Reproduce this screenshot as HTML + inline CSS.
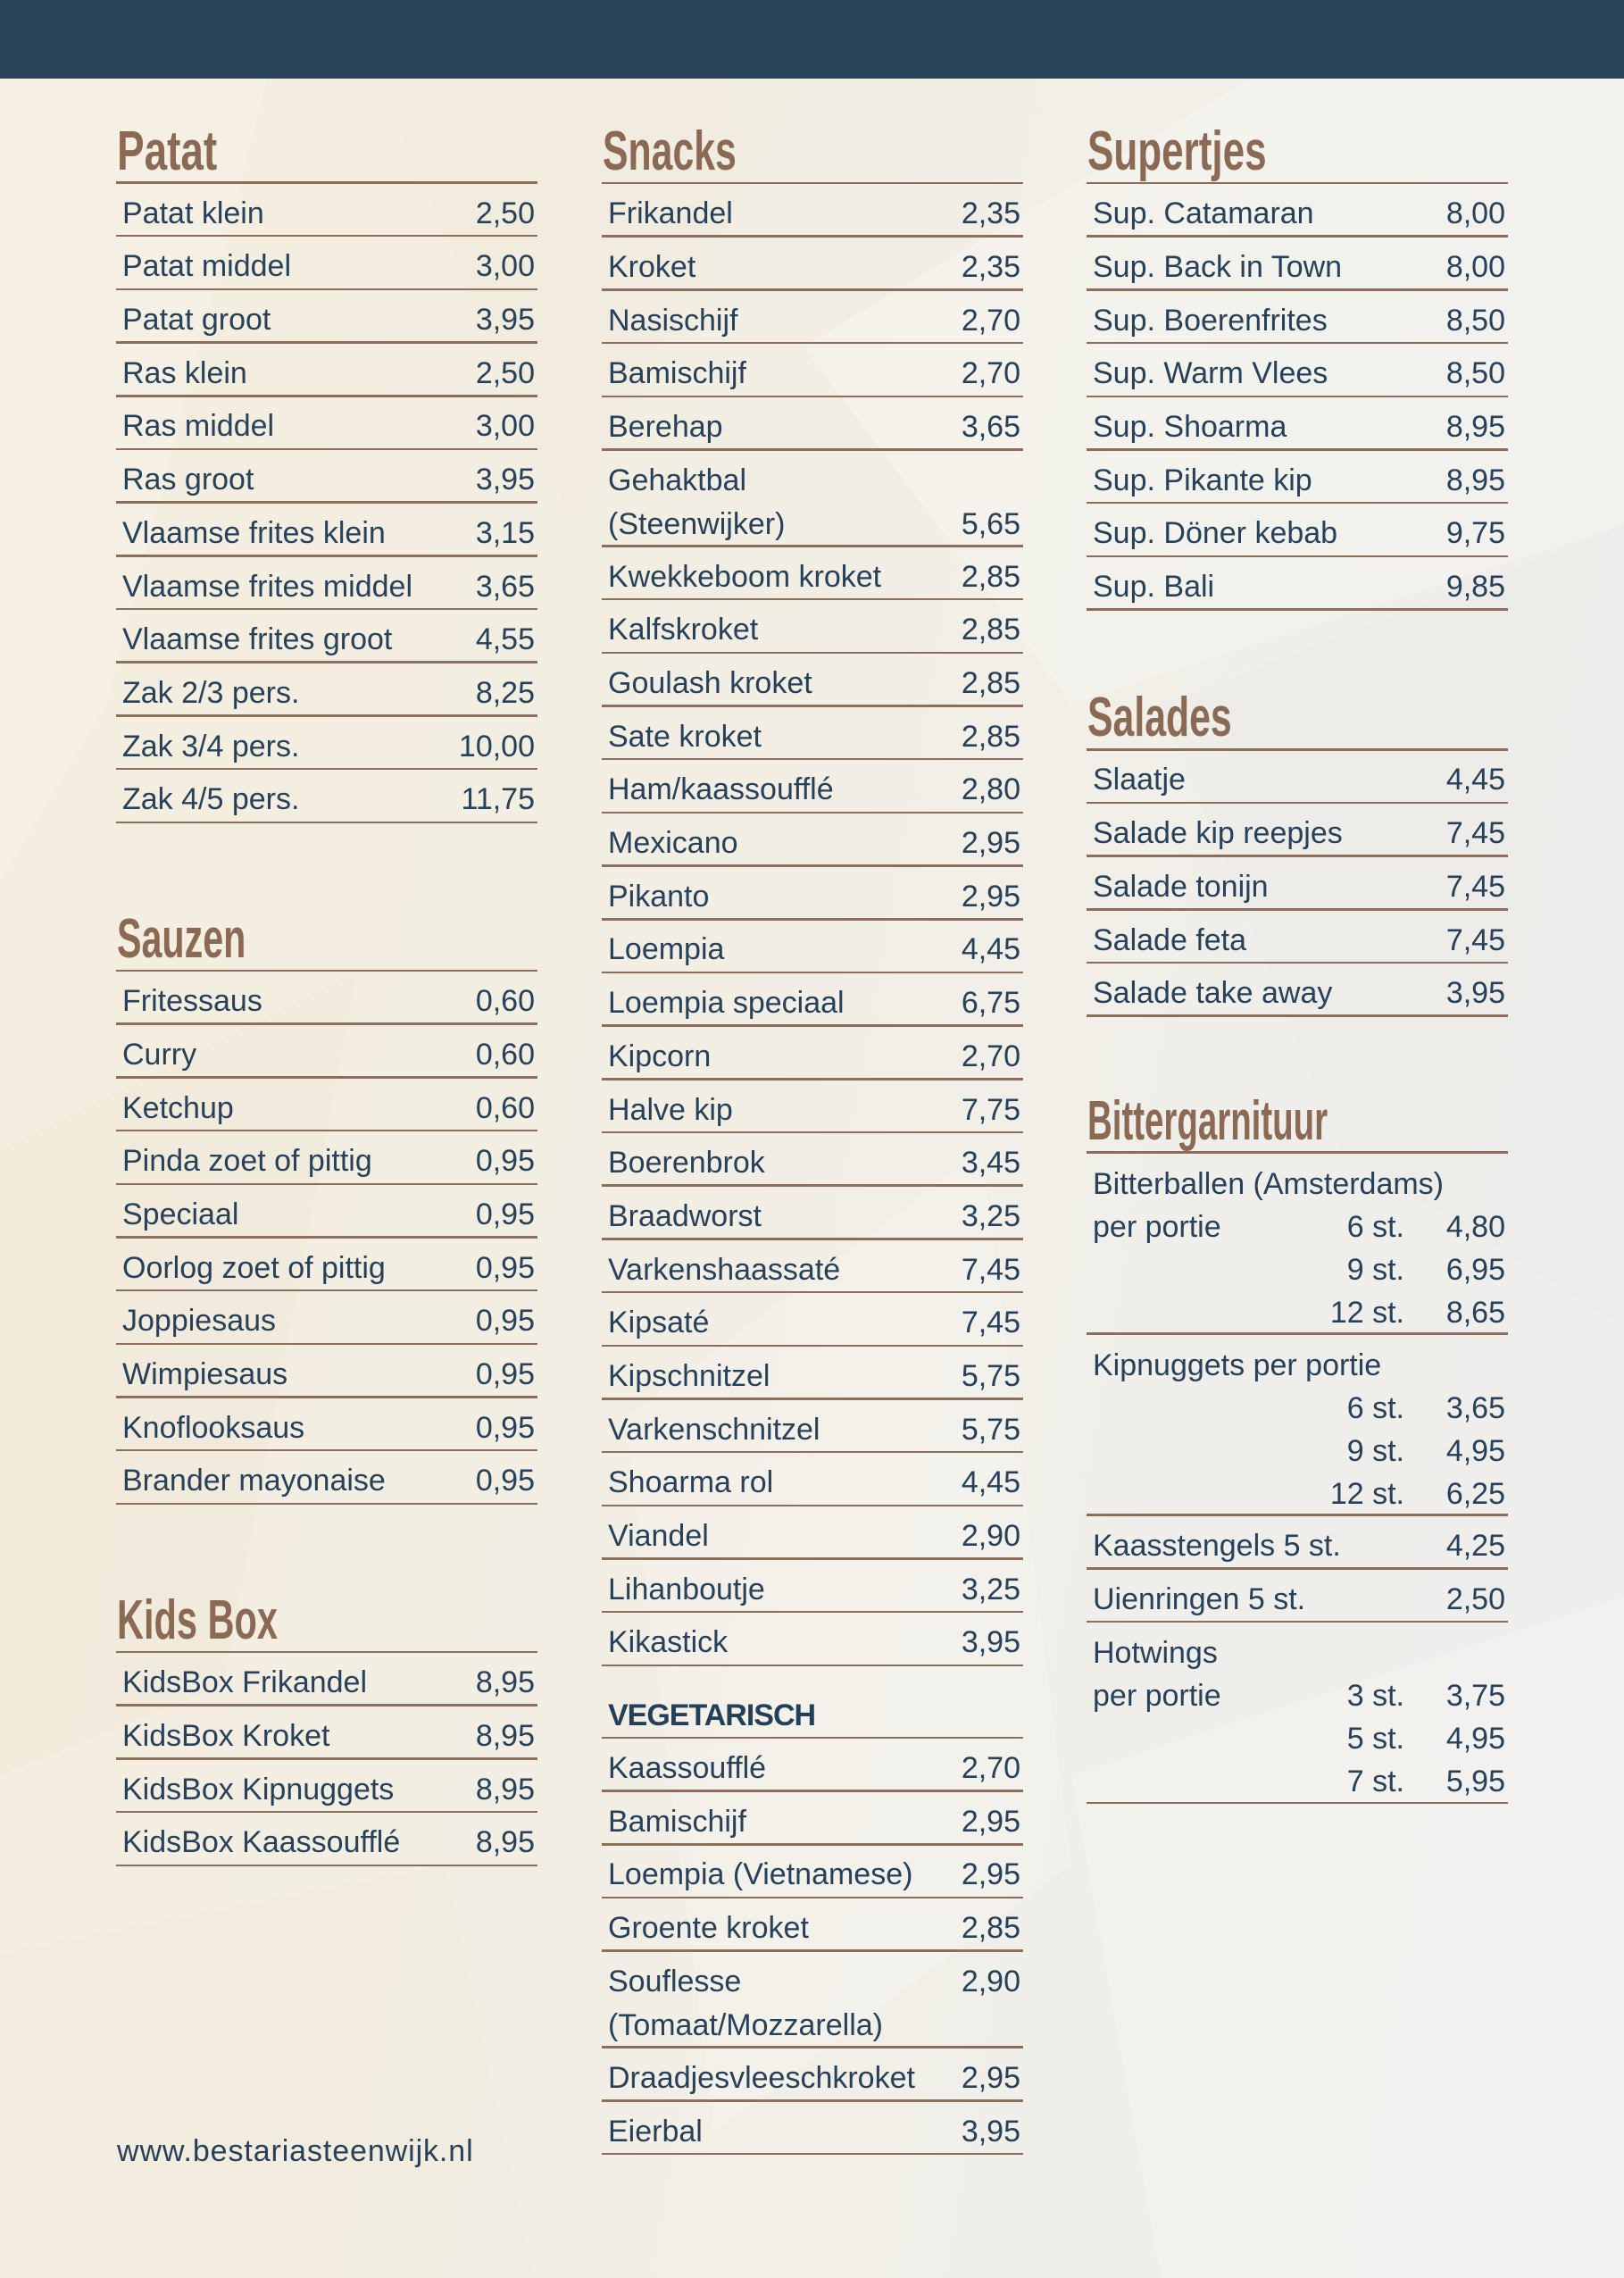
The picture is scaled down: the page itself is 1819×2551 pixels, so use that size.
<!DOCTYPE html>
<html>
<head>
<meta charset="utf-8">
<style>
html,body{margin:0;padding:0;}
body{width:1819px;height:2551px;position:relative;overflow:hidden;
  background:linear-gradient(100deg,#f4eedf 0%,#f3eee2 35%,#f1efe8 60%,#efeeeb 80%,#eeeeed 100%);
  font-family:"Liberation Sans",sans-serif;color:#27415a;}
.hdr{position:absolute;left:0;top:0;width:1819px;height:88px;background:#284259;}
.bg{position:absolute;left:0;top:88px;}
.col{position:absolute;top:0;width:472px;}
.sec{position:absolute;left:0;width:472px;}
.hl{position:absolute;left:0;top:-1.25px;width:472px;height:2.5px;background:#8b6e5b;}
.h{position:absolute;left:1px;top:-66px;font-size:62px;line-height:62px;font-weight:bold;color:#8b6a55;transform-origin:0 0;white-space:nowrap;}
.r{position:relative;height:59.7px;}
.r::after{content:"";position:absolute;left:0;right:0;bottom:-1.25px;height:2.5px;background:#8b6e5b;}
.d{height:108px;}
.v{height:81px;}
.b{height:203px;}
.t{position:absolute;left:7px;top:10.2px;font-size:34px;line-height:49px;white-space:nowrap;}
.p{position:absolute;right:3px;top:10.2px;font-size:34px;line-height:49px;white-space:nowrap;text-align:right;}
.d .t,.d .p{top:10.7px;}
.b .t,.b .p,.b .s{top:11.2px;line-height:48px;}
.s{position:absolute;right:116px;font-size:34px;white-space:nowrap;text-align:right;}
.vt{position:absolute;left:7px;top:32.1px;font-size:34px;line-height:49px;font-weight:bold;letter-spacing:-1px;color:#243f58;white-space:nowrap;}
.url{position:absolute;left:131px;top:2385.4px;font-size:34px;line-height:49px;letter-spacing:0.9px;white-space:nowrap;}
</style>
</head>
<body>
<svg class="bg" width="1819" height="2463" viewBox="0 0 1819 2463">
  <polygon points="0,0 300,0 120,700 0,900" fill="#ffffff" opacity="0.12"/>
  <polygon points="420,0 900,0 640,500" fill="#e8e2d4" opacity="0.18"/>
  <polygon points="900,300 1400,0 1819,0 1819,500 1200,700" fill="#ffffff" opacity="0.18"/>
  <polygon points="1300,700 1819,500 1819,1400 1500,1200" fill="#e6e6e6" opacity="0.18"/>
  <polygon points="0,1200 400,1000 250,1800 0,1900" fill="#e9e1cf" opacity="0.2"/>
  <polygon points="700,1500 1100,1200 1200,2000 800,2300" fill="#ffffff" opacity="0.15"/>
  <polygon points="1200,1900 1819,1700 1819,2463 1300,2463" fill="#ffffff" opacity="0.18"/>
  <polygon points="0,2100 500,2000 600,2463 0,2463" fill="#ebe3d2" opacity="0.18"/>
</svg>
<div class="hdr"></div>

<!-- LEFT COLUMN -->
<div class="col" style="left:130px;">
  <div class="sec" style="top:204.5px;">
    <div class="hl"></div>
    <div class="h" style="transform:scaleX(0.74);">Patat</div>
    <div class="r"><span class="t">Patat klein</span><span class="p">2,50</span></div>
    <div class="r"><span class="t">Patat middel</span><span class="p">3,00</span></div>
    <div class="r"><span class="t">Patat groot</span><span class="p">3,95</span></div>
    <div class="r"><span class="t">Ras klein</span><span class="p">2,50</span></div>
    <div class="r"><span class="t">Ras middel</span><span class="p">3,00</span></div>
    <div class="r"><span class="t">Ras groot</span><span class="p">3,95</span></div>
    <div class="r"><span class="t">Vlaamse frites klein</span><span class="p">3,15</span></div>
    <div class="r"><span class="t">Vlaamse frites middel</span><span class="p">3,65</span></div>
    <div class="r"><span class="t">Vlaamse frites groot</span><span class="p">4,55</span></div>
    <div class="r"><span class="t">Zak 2/3 pers.</span><span class="p">8,25</span></div>
    <div class="r"><span class="t">Zak 3/4 pers.</span><span class="p">10,00</span></div>
    <div class="r"><span class="t">Zak 4/5 pers.</span><span class="p">11,75</span></div>
  </div>
  <div class="sec" style="top:1087px;">
    <div class="hl"></div>
    <div class="h" style="transform:scaleX(0.665);">Sauzen</div>
    <div class="r"><span class="t">Fritessaus</span><span class="p">0,60</span></div>
    <div class="r"><span class="t">Curry</span><span class="p">0,60</span></div>
    <div class="r"><span class="t">Ketchup</span><span class="p">0,60</span></div>
    <div class="r"><span class="t">Pinda zoet of pittig</span><span class="p">0,95</span></div>
    <div class="r"><span class="t">Speciaal</span><span class="p">0,95</span></div>
    <div class="r"><span class="t">Oorlog zoet of pittig</span><span class="p">0,95</span></div>
    <div class="r"><span class="t">Joppiesaus</span><span class="p">0,95</span></div>
    <div class="r"><span class="t">Wimpiesaus</span><span class="p">0,95</span></div>
    <div class="r"><span class="t">Knoflooksaus</span><span class="p">0,95</span></div>
    <div class="r"><span class="t">Brander mayonaise</span><span class="p">0,95</span></div>
  </div>
  <div class="sec" style="top:1850px;">
    <div class="hl"></div>
    <div class="h" style="transform:scaleX(0.67);">Kids Box</div>
    <div class="r"><span class="t">KidsBox Frikandel</span><span class="p">8,95</span></div>
    <div class="r"><span class="t">KidsBox Kroket</span><span class="p">8,95</span></div>
    <div class="r"><span class="t">KidsBox Kipnuggets</span><span class="p">8,95</span></div>
    <div class="r"><span class="t">KidsBox Kaassoufflé</span><span class="p">8,95</span></div>
  </div>
</div>

<div class="url">www.bestariasteenwijk.nl</div>

<!-- MIDDLE COLUMN -->
<div class="col" style="left:674px;">
  <div class="sec" style="top:205px;">
    <div class="hl"></div>
    <div class="h" style="transform:scaleX(0.69);">Snacks</div>
    <div class="r"><span class="t">Frikandel</span><span class="p">2,35</span></div>
    <div class="r"><span class="t">Kroket</span><span class="p">2,35</span></div>
    <div class="r"><span class="t">Nasischijf</span><span class="p">2,70</span></div>
    <div class="r"><span class="t">Bamischijf</span><span class="p">2,70</span></div>
    <div class="r"><span class="t">Berehap</span><span class="p">3,65</span></div>
    <div class="r d"><span class="t">Gehaktbal<br>(Steenwijker)</span><span class="p">&nbsp;<br>5,65</span></div>
    <div class="r"><span class="t">Kwekkeboom kroket</span><span class="p">2,85</span></div>
    <div class="r"><span class="t">Kalfskroket</span><span class="p">2,85</span></div>
    <div class="r"><span class="t">Goulash kroket</span><span class="p">2,85</span></div>
    <div class="r"><span class="t">Sate kroket</span><span class="p">2,85</span></div>
    <div class="r"><span class="t">Ham/kaassoufflé</span><span class="p">2,80</span></div>
    <div class="r"><span class="t">Mexicano</span><span class="p">2,95</span></div>
    <div class="r"><span class="t">Pikanto</span><span class="p">2,95</span></div>
    <div class="r"><span class="t">Loempia</span><span class="p">4,45</span></div>
    <div class="r"><span class="t">Loempia speciaal</span><span class="p">6,75</span></div>
    <div class="r"><span class="t">Kipcorn</span><span class="p">2,70</span></div>
    <div class="r"><span class="t">Halve kip</span><span class="p">7,75</span></div>
    <div class="r"><span class="t">Boerenbrok</span><span class="p">3,45</span></div>
    <div class="r"><span class="t">Braadworst</span><span class="p">3,25</span></div>
    <div class="r"><span class="t">Varkenshaassaté</span><span class="p">7,45</span></div>
    <div class="r"><span class="t">Kipsaté</span><span class="p">7,45</span></div>
    <div class="r"><span class="t">Kipschnitzel</span><span class="p">5,75</span></div>
    <div class="r"><span class="t">Varkenschnitzel</span><span class="p">5,75</span></div>
    <div class="r"><span class="t">Shoarma rol</span><span class="p">4,45</span></div>
    <div class="r"><span class="t">Viandel</span><span class="p">2,90</span></div>
    <div class="r"><span class="t">Lihanboutje</span><span class="p">3,25</span></div>
    <div class="r"><span class="t">Kikastick</span><span class="p">3,95</span></div>
    <div class="r v"><span class="vt">VEGETARISCH</span></div>
    <div class="r"><span class="t">Kaassoufflé</span><span class="p">2,70</span></div>
    <div class="r"><span class="t">Bamischijf</span><span class="p">2,95</span></div>
    <div class="r"><span class="t">Loempia (Vietnamese)</span><span class="p">2,95</span></div>
    <div class="r"><span class="t">Groente kroket</span><span class="p">2,85</span></div>
    <div class="r d"><span class="t">Souflesse<br>(Tomaat/Mozzarella)</span><span class="p">2,90</span></div>
    <div class="r"><span class="t">Draadjesvleeschkroket</span><span class="p">2,95</span></div>
    <div class="r"><span class="t">Eierbal</span><span class="p">3,95</span></div>
  </div>
</div>

<!-- RIGHT COLUMN -->
<div class="col" style="left:1217px;">
  <div class="sec" style="top:205px;">
    <div class="hl"></div>
    <div class="h" style="transform:scaleX(0.71);">Supertjes</div>
    <div class="r"><span class="t">Sup. Catamaran</span><span class="p">8,00</span></div>
    <div class="r"><span class="t">Sup. Back in Town</span><span class="p">8,00</span></div>
    <div class="r"><span class="t">Sup. Boerenfrites</span><span class="p">8,50</span></div>
    <div class="r"><span class="t">Sup. Warm Vlees</span><span class="p">8,50</span></div>
    <div class="r"><span class="t">Sup. Shoarma</span><span class="p">8,95</span></div>
    <div class="r"><span class="t">Sup. Pikante kip</span><span class="p">8,95</span></div>
    <div class="r"><span class="t">Sup. Döner kebab</span><span class="p">9,75</span></div>
    <div class="r"><span class="t">Sup. Bali</span><span class="p">9,85</span></div>
  </div>
  <div class="sec" style="top:839.3px;">
    <div class="hl"></div>
    <div class="h" style="transform:scaleX(0.69);">Salades</div>
    <div class="r"><span class="t">Slaatje</span><span class="p">4,45</span></div>
    <div class="r"><span class="t">Salade kip reepjes</span><span class="p">7,45</span></div>
    <div class="r"><span class="t">Salade tonijn</span><span class="p">7,45</span></div>
    <div class="r"><span class="t">Salade feta</span><span class="p">7,45</span></div>
    <div class="r"><span class="t">Salade take away</span><span class="p">3,95</span></div>
  </div>
  <div class="sec" style="top:1290.7px;">
    <div class="hl"></div>
    <div class="h" style="transform:scaleX(0.62);">Bittergarnituur</div>
    <div class="r b"><span class="t">Bitterballen (Amsterdams)<br>per portie</span><span class="s">&nbsp;<br>6 st.<br>9 st.<br>12 st.</span><span class="p">&nbsp;<br>4,80<br>6,95<br>8,65</span></div>
    <div class="r b"><span class="t">Kipnuggets per portie</span><span class="s">&nbsp;<br>6 st.<br>9 st.<br>12 st.</span><span class="p">&nbsp;<br>3,65<br>4,95<br>6,25</span></div>
    <div class="r"><span class="t">Kaasstengels 5 st.</span><span class="p">4,25</span></div>
    <div class="r"><span class="t">Uienringen 5 st.</span><span class="p">2,50</span></div>
    <div class="r b"><span class="t">Hotwings<br>per portie</span><span class="s">&nbsp;<br>3 st.<br>5 st.<br>7 st.</span><span class="p">&nbsp;<br>3,75<br>4,95<br>5,95</span></div>
  </div>
</div>
</body>
</html>
